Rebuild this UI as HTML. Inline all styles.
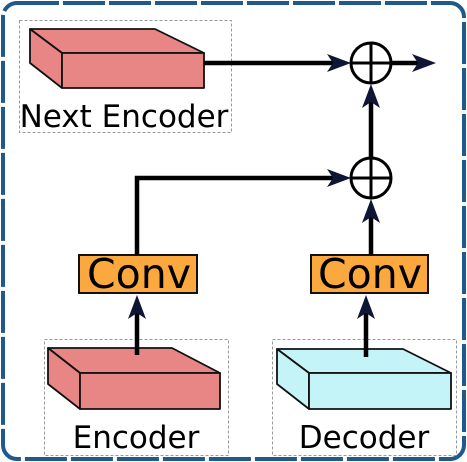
<!DOCTYPE html>
<html><head><meta charset="utf-8"><style>
html,body{margin:0;padding:0;background:#fff}
svg{display:block}
text{font-family:"DejaVu Sans","Liberation Sans",sans-serif}
</style></head><body>
<svg width="467" height="462" viewBox="0 0 467 462" xmlns="http://www.w3.org/2000/svg">
<rect x="3" y="3" width="461" height="456" rx="14" fill="none" stroke="#1f5a8a" stroke-width="4" stroke-dasharray="42,4"/>
<rect x="19.5" y="20.5" width="212" height="112" fill="none" stroke="#999" stroke-width="1" stroke-dasharray="3,2"/>
<rect x="44.5" y="339.5" width="184" height="116" fill="none" stroke="#999" stroke-width="1" stroke-dasharray="3,2"/>
<rect x="272.5" y="339.5" width="184" height="116" fill="none" stroke="#999" stroke-width="1" stroke-dasharray="3,2"/>
<g stroke="#111" stroke-width="1.8" fill="#e88585" stroke-linejoin="round">
<path d="M30,29 L155,29 L204,53 L62,53 Z"/>
<path d="M30,29 L62,53 L62,88 L30,63 Z"/>
<rect x="62" y="53" width="142" height="35"/>
</g>
<text x="124" y="127" font-size="31" text-anchor="middle">Next Encoder</text>
<g stroke="#111" stroke-width="1.8" fill="#e88585" stroke-linejoin="round">
<path d="M48,348 L172,348 L220,373 L80,373 Z"/>
<path d="M48,348 L80,373 L80,409 L48,384 Z"/>
<rect x="80" y="373" width="140" height="36"/>
</g>
<text x="136" y="448" font-size="31" text-anchor="middle">Encoder</text>
<g stroke="#111" stroke-width="1.8" fill="#c4f4f8" stroke-linejoin="round">
<path d="M277,349 L403,349 L451,373 L309,373 Z"/>
<path d="M277,349 L309,373 L309,409 L277,384 Z"/>
<rect x="309" y="373" width="142" height="36"/>
</g>
<text x="364" y="448" font-size="31" text-anchor="middle">Decoder</text>
<rect x="79" y="255" width="118" height="38" fill="#fba93f" stroke="#111" stroke-width="2"/>
<text x="139" y="288" font-size="41" text-anchor="middle">Conv</text>
<rect x="311" y="255" width="117" height="38" fill="#fba93f" stroke="#111" stroke-width="2"/>
<text x="370" y="288" font-size="41" text-anchor="middle">Conv</text>
<g stroke="#000" stroke-width="4.5" fill="none">
<line x1="204" y1="63" x2="336" y2="63"/>
<line x1="391" y1="63" x2="422" y2="63"/>
<line x1="371" y1="158" x2="371" y2="98"/>
<line x1="371" y1="255" x2="371" y2="213"/>
<polyline points="137,255 137,178 336,178"/>
<line x1="137" y1="355" x2="137" y2="309"/>
<line x1="366" y1="357" x2="366" y2="309"/>
</g>
<g fill="#0f1535">
<path d="M351,63 L327,54 L333,63 L327,72 Z"/>
<path d="M436,63 L412,54 L418,63 L412,72 Z"/>
<path d="M351,178 L327,169 L333,178 L327,187 Z"/>
<path d="M371,84 L362,108 L371,102 L380,108 Z"/>
<path d="M371,199 L362,223 L371,217 L380,223 Z"/>
<path d="M137,295 L128,319 L137,313 L146,319 Z"/>
<path d="M366,295 L357,319 L366,313 L375,319 Z"/>
</g>
<g stroke="#000" stroke-width="3" fill="#fff">
<circle cx="371" cy="63" r="20"/>
<circle cx="371" cy="178" r="20"/>
</g>
<g stroke="#000" stroke-width="3">
<line x1="351" y1="63" x2="391" y2="63"/><line x1="371" y1="43" x2="371" y2="83"/>
<line x1="351" y1="178" x2="391" y2="178"/><line x1="371" y1="158" x2="371" y2="198"/>
</g>
</svg>
</body></html>
